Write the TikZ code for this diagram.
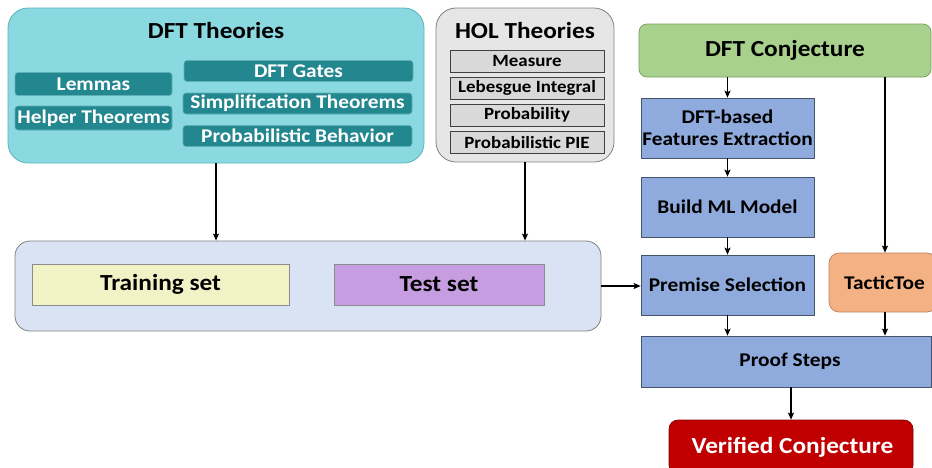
\documentclass[tikz,border=0pt]{standalone}
\usepackage{fontspec}
\setmainfont{Carlito}[FakeStretch=1.1]
\usepackage{tikz}
\usetikzlibrary{shapes,arrows.meta,positioning,calc}
\usepackage{xcolor}

\definecolor{dftcyan}{HTML}{8AD8E0}
\definecolor{dftcyanline}{HTML}{5DB3BE}
\definecolor{dftteal}{HTML}{23878F}
\definecolor{dfttealline}{HTML}{5FAFB6}
\definecolor{holgray}{HTML}{E6E6E6}
\definecolor{holline}{HTML}{808080}
\definecolor{holinner}{HTML}{D9D9D9}
\definecolor{conjgreen}{HTML}{A9D18E}
\definecolor{conjline}{HTML}{739E5A}
\definecolor{stepblue}{HTML}{8FAADC}
\definecolor{stepline}{HTML}{44546A}
\definecolor{tacorange}{HTML}{F4B183}
\definecolor{tacline}{HTML}{B8845E}
\definecolor{verred}{HTML}{C00000}
\definecolor{verline}{HTML}{8A0000}
\definecolor{setblue}{HTML}{DAE3F3}
\definecolor{trainyellow}{HTML}{F1F3C6}
\definecolor{testpurple}{HTML}{C69DE0}

\begin{document}
\begin{tikzpicture}[
    x=1pt, y=-1pt,
    bigfont/.style={font=\fontsize{23}{26}\selectfont\bfseries},
    midfont/.style={font=\fontsize{19.4}{22}\selectfont\bfseries},
    smallfont/.style={font=\fontsize{17.2}{20}\selectfont\bfseries},
    container/.style={rectangle, rounded corners=20pt, line width=0.8pt, inner sep=0pt},
    tealbox/.style={rectangle, rounded corners=3pt, fill=dftteal, draw=dfttealline, line width=0.6pt, minimum height=21pt, inner sep=0pt, text=white, midfont},
    holitem/.style={rectangle, fill=holinner, draw=black!75, line width=0.7pt, minimum width=154pt, minimum height=22pt, inner sep=0pt, smallfont},
    stepbox/.style={rectangle, fill=stepblue, draw=stepline, line width=0.7pt, inner sep=0pt, align=center, midfont},
    setbox/.style={rectangle, draw=black!45, line width=0.7pt, minimum height=41pt, inner sep=0pt, bigfont},
    arrow/.style={-{Stealth[length=7pt,width=6pt,inset=1.5pt]}, line width=1.4pt}
]

\useasboundingbox (0,0) rectangle (932,467);

% DFT theories
\node[container, fill=dftcyan, draw=dftcyanline, minimum width=416pt, minimum height=155pt] (dftbox) at (216,85.5) {};
\node[bigfont] (dfttitle) at (216,31) {DFT Theories};
\node[tealbox, minimum width=157pt, minimum height=23pt] (lemmas) at (93.5,84) {Lemmas};
\node[tealbox, minimum width=157pt, minimum height=24pt] (helper) at (93.5,118) {Helper Theorems};
\node[tealbox, minimum width=229pt] (gates) at (298.5,71) {DFT Gates};
\node[tealbox, minimum width=229pt] (simp) at (297.5,103.5) {Simplification Theorems};
\node[tealbox, minimum width=229pt] (probbeh) at (297.5,136) {Probabilistic Behavior};

% HOL theories
\node[container, fill=holgray, draw=holline, minimum width=178pt, minimum height=154pt] (holbox) at (525,85) {};
\node[bigfont] (holtitle) at (525,31) {HOL Theories};
\node[holitem] (measure) at (527,61) {Measure};
\node[holitem] (lebesgue) at (527,88) {Lebesgue Integral};
\node[holitem] (prob) at (527,115) {Probability};
\node[holitem] (pie) at (527,142.5) {Probabilistic PIE};

% data sets
\node[container, rounded corners=15pt, fill=setblue, draw=black!50, minimum width=586pt, minimum height=90pt] (bigbox) at (308,286) {};
\node[setbox, fill=trainyellow, minimum width=257pt] (training) at (160.5,284.5) {Training set};
\node[setbox, fill=testpurple, minimum width=210pt] (test) at (439,284.5) {Test set};

% proof pipeline
\node[rectangle, rounded corners=8pt, fill=conjgreen, draw=conjline, line width=0.7pt, minimum width=292pt, minimum height=53pt, bigfont] (conj) at (785,50.5) {DFT Conjecture};
\node[stepbox, minimum width=173pt, minimum height=60pt] (feat) at (727.5,128) {DFT-based\\Features Extraction};
\node[stepbox, minimum width=173pt, minimum height=60pt] (build) at (727.5,207) {Build ML Model};
\node[stepbox, minimum width=173pt, minimum height=60pt] (premise) at (727.5,285) {Premise Selection};
\node[rectangle, rounded corners=10pt, fill=tacorange, draw=tacline, line width=0.7pt, minimum width=108pt, minimum height=59pt, midfont] (tactic) at (883,282.5) {\hspace*{3pt}TacticToe\hspace*{0pt}};
\node[stepbox, minimum width=290pt, minimum height=51pt] (proof) at (786,361.5) {\hspace*{8pt}Proof Steps};
\node[rectangle, rounded corners=9pt, fill=verred, draw=verline, line width=0.7pt, minimum width=244pt, minimum height=54pt, text=white, bigfont] (verified) at (791,447) {\hspace*{3pt}Verified Conjecture};

\draw[arrow] (dftbox.south) -- (dftbox.south |- bigbox.north);
\draw[arrow] (holbox.south) -- (holbox.south |- bigbox.north);
\draw[arrow] (bigbox.east) -- (bigbox.east -| premise.west);
\draw[arrow] (feat.north |- conj.south) -- (feat.north);
\draw[arrow] (feat) -- (build);
\draw[arrow] (build) -- (premise);
\draw[arrow] (885,77) coordinate (tacstart) -- (tacstart |- tactic.north);
\draw[arrow] (premise.south) -- (premise.south |- proof.north);
\draw[arrow] (tacstart |- tactic.south) -- (tacstart |- proof.north);
\draw[arrow] (verified.north |- proof.south) -- (verified.north);

\end{tikzpicture}
\end{document}
